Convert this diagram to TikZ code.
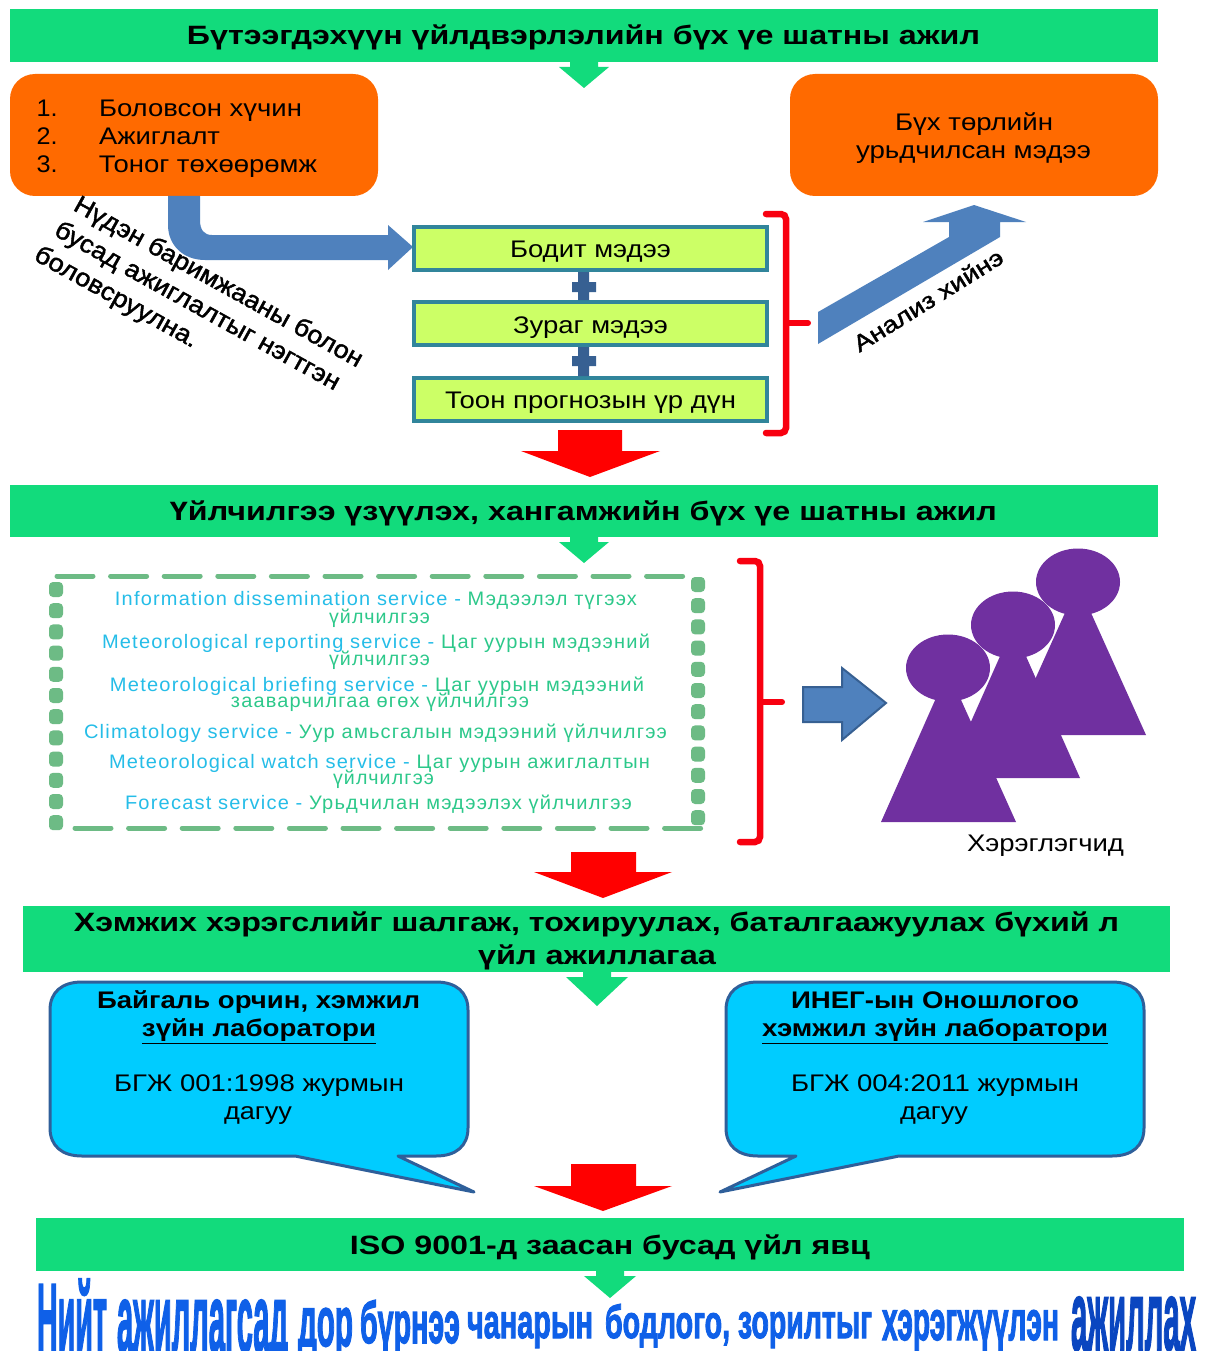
\documentclass[tikz,border=0pt]{standalone}
\usepackage{fontspec}
\usepackage{graphicx}
\setmainfont{Liberation Sans}
\usetikzlibrary{shapes.geometric}
\definecolor{bargreen}{HTML}{12DB7C}
\definecolor{orangebox}{HTML}{FF6A00}
\definecolor{limebox}{HTML}{CCFF66}
\definecolor{tealedge}{HTML}{31859B}
\definecolor{arrowblue}{HTML}{4F81BD}
\definecolor{plusblue}{HTML}{376092}
\definecolor{bracketred}{HTML}{F80010}
\definecolor{arrowred}{HTML}{FF0000}
\definecolor{dashgreen}{HTML}{6DBB85}
\definecolor{svcblue}{HTML}{25BDE8}
\definecolor{svcgreen}{HTML}{2CC88A}
\definecolor{calloutblue}{HTML}{00CCFF}
\definecolor{calloutedge}{HTML}{2F5F9A}
\definecolor{peoplepurple}{HTML}{7030A0}
\definecolor{bigblue}{HTML}{0F60E8}
\definecolor{bigdark}{HTML}{0A46C0}
\newfontfamily\heavyfont[FakeBold=2.5]{Liberation Sans Bold}
\newfontfamily\semifont[FakeBold=1.6]{Liberation Sans}
\newfontfamily\spacedfont[LetterSpace=6]{Liberation Sans}
\newcommand{\ft}[6]{\node[txt,anchor=base] (#1) at (#2,{#3+0.37*#5}) {\fontsize{#5pt}{#5pt}\selectfont\resizebox{#4pt}{\height}{#6}};}
\newcommand{\sv}[6]{\node[txt,anchor=base] (#1) at (#2,{#3+0.33*19.5}) {\fontsize{19.5pt}{19.5pt}\spacedfont\resizebox{#4pt}{\height}{\textcolor{svcblue}{#5}\textcolor{svcgreen}{#6}}};}
\tikzset{
 txt/.style={inner sep=0pt,outer sep=0pt},
 bar/.style={fill=bargreen,draw=none},
 chev/.style={fill=bargreen,draw=none},
 orbox/.style={fill=orangebox,draw=none,rounded corners=25pt},
 limeb/.style={fill=limebox,draw=tealedge,line width=3.5pt},
 redarrow/.style={fill=arrowred,draw=none},
 brack/.style={draw=bracketred,line width=6.5pt,rounded corners=5pt,line cap=round},
 tick/.style={draw=bracketred,line width=6pt,line cap=round},
 callout/.style={fill=calloutblue,draw=calloutedge,line width=3pt,line join=round},
 person/.style={fill=peoplepurple,draw=none},
 hd/.style={inner sep=0pt,outer sep=0pt,minimum width=84pt,minimum height=67pt,ellipse,fill=peoplepurple},
 vdash/.style={fill=dashgreen,draw=none,rounded corners=4pt}
}
\begin{document}
\begin{tikzpicture}[x=1pt,y=-1pt]
\useasboundingbox (0,0) rectangle (1209,1351);
\fill[white] (0,0) rectangle (1209,1351);
% green bars
\fill[bar] (10,9) rectangle (1158,62);
\fill[bar] (10,485) rectangle (1158,537);
\fill[bar] (23,906) rectangle (1170,972);
\fill[bar] (36,1218) rectangle (1184,1271);
% chevrons
\foreach \cx/\cy/\hw/\hh in {584/62/25/26,584/537/25/26,597/972/31/34,610/1271/26/27}{
 \fill[chev] (\cx-14,\cy) -- (\cx+14,\cy) -- (\cx+14,\cy+5) -- (\cx+\hw,\cy+5) -- (\cx,\cy+\hh) -- (\cx-\hw,\cy+5) -- (\cx-14,\cy+5) -- cycle;
}
% orange
\fill[orbox] (10,74) rectangle (378,196);
\fill[orbox] (790,74) rectangle (1158,196);
% blue bent arrow
\fill[arrowblue] (168,196) -- (200,196) -- (200,220) .. controls (200,230) and (204,235) .. (212,235) -- (388,235) -- (388,225) -- (413,247) -- (388,270) -- (388,260) -- (205,260) .. controls (183,260) and (168,245) .. (168,225) -- cycle;
% lime boxes
\node[limeb,minimum width=353pt,minimum height=43pt,inner sep=0pt] (b1) at (590.5,248.5) {};
\node[limeb,minimum width=353pt,minimum height=43pt,inner sep=0pt] (b2) at (590.5,323.5) {};
\node[limeb,minimum width=353pt,minimum height=43pt,inner sep=0pt] (b3) at (590.5,399.5) {};
% plus connectors
\fill[plusblue] (578,272) rectangle (589,300) (572,282) rectangle (596,292);
\fill[plusblue] (578,347) rectangle (589,376) (572,356) rectangle (596,366);
% brackets
\draw[brack] (766,214) -- (786,214) -- (786,433) -- (766,433);
\draw[tick] (786,323) -- (808,323);
\draw[brack] (740,561) -- (760,561) -- (760,842) -- (740,842);
\draw[tick] (760,702) -- (782,702);
% up arrow
\fill[arrowblue] (818,312) -- (949,237) -- (949,222) -- (923,222) -- (974,205) -- (1026,222) -- (1000,222) -- (1000,237) -- (818,344) -- cycle;
% red arrows
\fill[redarrow] (558,430) -- (622,430) -- (622,451) -- (660,451) -- (590,477) -- (521,451) -- (558,451) -- cycle;
\fill[redarrow] (571,852) -- (636,852) -- (636,872) -- (672,872) -- (603,898) -- (534,872) -- (571,872) -- cycle;
\fill[redarrow] (571,1164) -- (636,1164) -- (636,1186) -- (672,1186) -- (603,1211) -- (534,1186) -- (571,1186) -- cycle;
% dashed box
\draw[dashgreen,line width=5pt,line cap=round,dash pattern=on 36pt off 17.6pt] (57,576) -- (686,576);
\draw[dashgreen,line width=5pt,line cap=round,dash pattern=on 36pt off 17.6pt] (75,828) -- (704,828);
\foreach \i in {0,...,11}{
 \fill[vdash] (49,582+21.2*\i) rectangle (63,597+21.2*\i);
 \fill[vdash] (691,577+21.2*\i) rectangle (705,592+21.2*\i);
}
% blue right arrow
\fill[arrowblue,draw=plusblue,line width=2pt] (803,687) -- (842,687) -- (842,668) -- (886,703) -- (842,740) -- (842,722) -- (803,722) -- cycle;
% people
\fill[person] (1078,584) -- (1146,735) -- (1010,735) -- cycle;
\node[hd] (h3) at (1078,582) {};
\fill[person] (1013,627) -- (1080,778) -- (946,778) -- cycle;
\node[hd] (h2) at (1013,625) {};
\fill[person] (948,671) -- (1016,822) -- (881,822) -- cycle;
\node[hd] (h1) at (948,668) {};
% callouts
\draw[callout] (82,982) -- (436,982) .. controls (456,982) and (468,992) .. (468,1010) -- (468,1128) .. controls (468,1146) and (456,1156) .. (436,1156) -- (398,1156) -- (474,1192) -- (295,1156) -- (82,1156) .. controls (62,1156) and (50,1146) .. (50,1128) -- (50,1010) .. controls (50,992) and (62,982) .. (82,982) -- cycle;
\draw[callout] (758,982) -- (1112,982) .. controls (1132,982) and (1144,992) .. (1144,1010) -- (1144,1128) .. controls (1144,1146) and (1132,1156) .. (1112,1156) -- (899,1156) -- (720,1192) -- (796,1156) -- (758,1156) .. controls (738,1156) and (726,1146) .. (726,1128) -- (726,1010) .. controls (726,992) and (738,982) .. (758,982) -- cycle;
% titles
\ft{t1}{583.5}{35}{793}{26.5}{\bfseries Бүтээгдэхүүн үйлдвэрлэлийн бүх үе шатны ажил}
\ft{t2}{583.5}{511}{827}{26.5}{\bfseries Үйлчилгээ үзүүлэх, хангамжийн бүх үе шатны ажил}
\ft{t3a}{596.5}{922}{1045}{26.5}{\bfseries Хэмжих хэрэгслийг шалгаж, тохируулах, баталгаажуулах бүхий л}
\ft{t3b}{597}{955}{238}{26.5}{\bfseries үйл ажиллагаа}
\ft{t4}{610}{1245}{520}{26.5}{\bfseries ISO 9001-д заасан бусад үйл явц}
% orange text
\ft{n1}{47}{108}{21}{24}{1.}
\ft{n2}{47}{136}{21}{24}{2.}
\ft{n3}{47}{164}{21}{24}{3.}
\ft{o1}{200.5}{108}{203}{24}{Боловсон хүчин}
\ft{o2}{159.5}{136}{121}{24}{Ажиглалт}
\ft{o3}{208}{164}{218}{24}{Тоног төхөөрөмж}
\ft{o4}{974}{122}{158}{24}{Бүх төрлийн}
\ft{o5}{973.5}{150}{235}{24}{урьдчилсан мэдээ}
% boxes text
\ft{l1}{590.5}{249}{161}{24}{Бодит мэдээ}
\ft{l2}{590.5}{325}{155}{24}{Зураг мэдээ}
\ft{l3}{590.5}{400}{291}{24}{Тоон прогнозын үр дүн}
% rotated
\node[txt,rotate=-29] (r1) at (218,283) {\fontsize{25pt}{25pt}\semifont\resizebox{326pt}{\height}{Нүдэн баримжааны болон}};
\node[txt,rotate=-29] (r2) at (197,307) {\fontsize{25pt}{25pt}\semifont\resizebox{322pt}{\height}{бусад ажиглалтыг нэгтгэн}};
\node[txt,rotate=-29] (r3) at (116,298) {\fontsize{25pt}{25pt}\semifont\resizebox{183pt}{\height}{боловсруулна.}};
\node[txt,rotate=32] (r4) at (928,300) {\fontsize{23pt}{23pt}\semifont\resizebox{172pt}{\height}{Анализ хийнэ}};
% services
\sv{s1a}{376}{599}{522}{Information dissemination service - }{Мэдээлэл түгээх}
\sv{s1b}{379.5}{617}{101}{}{үйлчилгээ}
\sv{s2a}{376}{642}{548}{Meteorological reporting service - }{Цаг уурын мэдээний}
\sv{s2b}{379.5}{659}{101}{}{үйлчилгээ}
\sv{s3a}{377}{685}{534}{Meteorological briefing service - }{Цаг уурын мэдээний}
\sv{s3b}{380}{701}{298}{}{зааварчилгаа өгөх үйлчилгээ}
\sv{s4}{375.5}{732}{583}{Climatology service - }{Уур амьсгалын мэдээний үйлчилгээ}
\sv{s5a}{379.5}{762}{541}{Meteorological watch service - }{Цаг уурын ажиглалтын}
\sv{s5b}{383.5}{778}{101}{}{үйлчилгээ}
\sv{s6}{378.5}{803}{507}{Forecast service - }{Урьдчилан мэдээлэх үйлчилгээ}
\ft{u}{1045.5}{843}{157}{24}{Хэрэглэгчид}
% callout text
\ft{c1}{258.5}{1000}{323}{24}{\bfseries Байгаль орчин, хэмжил}
\ft{c2}{259}{1028}{234}{24}{\bfseries\underline{зүйн лаборатори}}
\ft{c3}{259}{1083}{290}{24}{БГЖ 001:1998 журмын}
\ft{c4}{258}{1111}{68}{24}{дагуу}
\ft{d1}{935}{1000}{288}{24}{\bfseries ИНЕГ-ын Оношлогоо}
\ft{d2}{935}{1028}{346}{24}{\bfseries\underline{хэмжил зүйн лаборатори}}
\ft{d3}{935}{1083}{288}{24}{БГЖ 004:2011 журмын}
\ft{d4}{934}{1111}{68}{24}{дагуу}
% bottom word art
\foreach \wrd/\xc/\wdt/\hgt/\bl/\cl/\nm in {Нийт/72/70/73/1352/bigblue/w1,ажиллагсад/202.5/171/52/1352/bigblue/w2,дор/325.5/55/38/1346/bigblue/w3,бүрнээ/410/100/43/1343/bigblue/w4,чанарын/530/126/26/1338/bigblue/w5,{бодлого,}/667.5/125/34/1338/bigblue/w6,зорилтыг/805/134/26/1338/bigblue/w7,хэрэгжүүлэн/970.5/177/30/1340/bigblue/w8,ажиллах/1133.5/125/53/1350/bigdark/w9}{
 \node[txt,anchor=base,text=\cl] (\nm) at (\xc,\bl) {\resizebox{\wdt pt}{\hgt pt}{\heavyfont \wrd}};
}
\end{tikzpicture}
\end{document}
